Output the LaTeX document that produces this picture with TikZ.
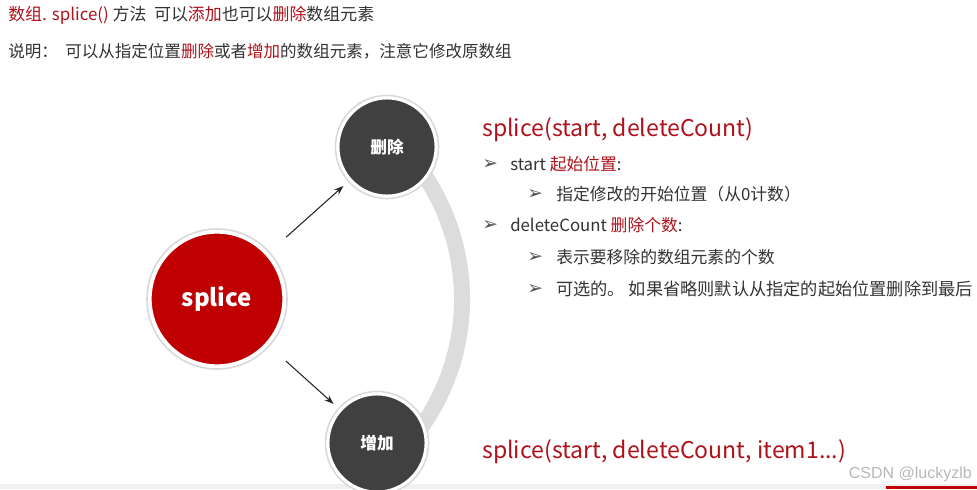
\documentclass[tikz,border=0pt]{standalone}
\usepackage{fontspec}
\setmainfont{Noto Sans CJK SC}
\newfontfamily\symfont{DejaVu Sans}
\newfontfamily\wmfont{Liberation Sans}
\usetikzlibrary{arrows.meta}
\definecolor{myred}{HTML}{B0121B}
\definecolor{circred}{HTML}{C00000}
\definecolor{circdark}{HTML}{404040}
\definecolor{bodytxt}{HTML}{333333}
\definecolor{arcgray}{HTML}{DCDCDC}
\newcommand{\rd}[1]{\textcolor{myred}{#1}}
\newcommand{\bul}{{\symfont\fontsize{14pt}{14pt}\selectfont ➢}}
\begin{document}
\begin{tikzpicture}[x=0.75pt,y=-0.75pt,
  txt/.style={anchor=base west,inner sep=0pt,text=bodytxt,font=\fontsize{12.6pt}{14pt}\selectfont},
  head/.style={anchor=base west,inner sep=0pt,text=myred,font=\fontsize{17.3pt}{19pt}\selectfont},
  blt/.style={anchor=base west,inner sep=0pt,text=bodytxt!85},
  bigc/.style={circle,fill=circred,draw=white,line width=2.5pt,minimum size=134*0.75pt,inner sep=0pt,text=white,font=\bfseries\fontsize{18pt}{19pt}\selectfont},
  smallc/.style={circle,fill=circdark,draw=white,line width=2.2pt,minimum size=98*0.75pt,inner sep=0pt,text=white,font=\bfseries\fontsize{12.5pt}{14pt}\selectfont},
  halo/.style={circle,draw=black!15,line width=1.2pt,fill=none},
  arr/.style={-{Stealth[length=7pt,width=5pt]},draw=black!85,line width=0.8pt}
]
\useasboundingbox (0,0) rectangle (977,489);
\fill[white] (0,0) rectangle (977,489);
% bottom strip
\fill[black!6] (0,484) rectangle (977,489);
\fill[circred] (886,486) rectangle (977,489);

% top lines
\node[txt,font=\fontsize{12.7pt}{14pt}\selectfont] (l1) at (8,21) {\rd{数组. splice()} 方法 \ 可以\rd{添加}也可以\rd{删除}数组元素};
\node[txt,font=\fontsize{12.4pt}{14pt}\selectfont] (l2) at (8,57) {说明：\ \ 可以从指定位置\rd{删除}或者\rd{增加}的数组元素，注意它修改原数组};

% arc
\coordinate (arcc) at (240,299);
\draw[arcgray,line width=12pt] ([shift={(-59:222)}]arcc) arc[start angle=-59,end angle=59,radius=222];

% circles
\node[halo,minimum size=140*0.75pt] at (217,299) {};
\node[bigc] (sp) at (217,299) {splice};
\node[halo,minimum size=103*0.75pt] at (387,147) {};
\node[smallc] (del) at (387,147) {删除};
\node[halo,minimum size=103*0.75pt] at (377,443) {};
\node[smallc] (add) at (377,443) {增加};

\draw[arr,shorten <=18pt,shorten >=6pt] (sp) -- (del);
\draw[arr,shorten <=18pt,shorten >=6pt] (sp) -- (add);

% right text
\node[head] (h1) at (482,136) {splice(start, deleteCount)};
\node[blt] (b1) at (482,169) {\bul};
\node[txt] (t1) at (510,170) {start \rd{起始位置}:};
\node[blt] (b2) at (527,199) {\bul};
\node[txt] (t2) at (556,200) {指定修改的开始位置（从0计数）};
\node[blt] (b3) at (482,230) {\bul};
\node[txt] (t3) at (510,231) {deleteCount \rd{删除个数}:};
\node[blt] (b4) at (527,262) {\bul};
\node[txt] (t4) at (556,263) {表示要移除的数组元素的个数};
\node[blt] (b5) at (527,294) {\bul};
\node[txt,font=\fontsize{12.9pt}{14pt}\selectfont] (t5) at (556,295) {可选的。 如果省略则默认从指定的起始位置删除到最后};
\node[head] (h2) at (482,458) {splice(start, deleteCount, item1...)};
\node[anchor=base east,inner sep=0pt,text=black!28,font=\wmfont\fontsize{12pt}{13pt}\selectfont] (wm) at (972,478) {CSDN @luckyzlb};
\end{tikzpicture}
\end{document}
